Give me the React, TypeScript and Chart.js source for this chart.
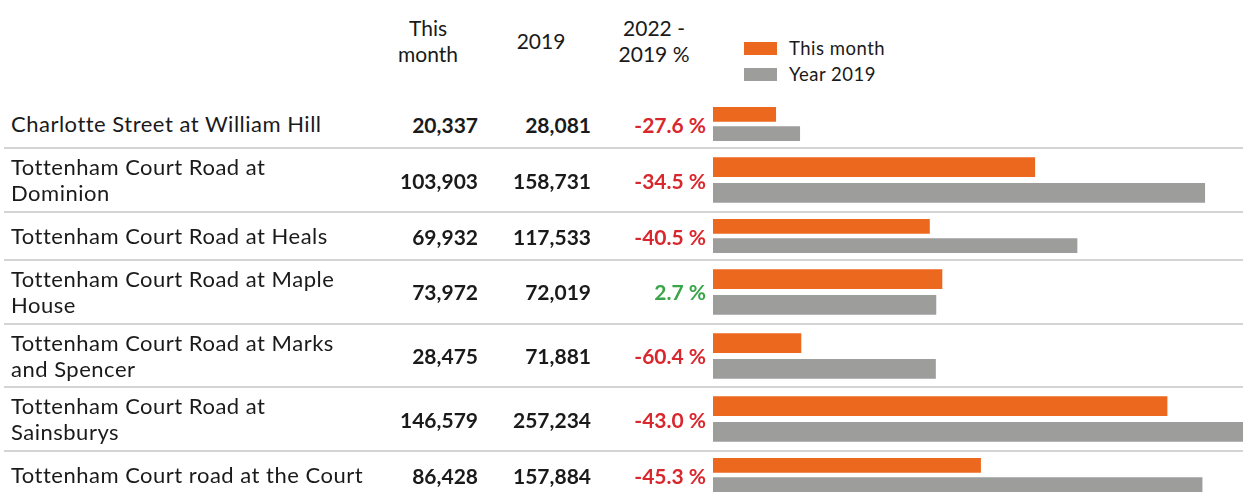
import React, { useEffect, useRef } from "react";
import { Chart, registerables } from "chart.js";

Chart.register(...registerables);

// ---- Data ----
const locationLines: string[][] = [
  ["Charlotte Street at William Hill"],
  ["Tottenham Court Road at", "Dominion"],
  ["Tottenham Court Road at Heals"],
  ["Tottenham Court Road at Maple", "House"],
  ["Tottenham Court Road at Marks", "and Spencer"],
  ["Tottenham Court Road at", "Sainsburys"],
  ["Tottenham Court road at the Court"],
];
const thisMonth = [20337, 103903, 69932, 73972, 28475, 146579, 86428];
const year2019 = [28081, 158731, 117533, 72019, 71881, 257234, 157884];
const changePct = [-27.6, -34.5, -40.5, 2.7, -60.4, -43.0, -45.3];
const headerThisMonth = ["This", "month"];
const headerYear = ["2019"];
const headerChange = ["2022 -", "2019 %"];
const seriesLabels = ["This month", "Year 2019"];

// ---- Styles ----
const ORANGE = "#EC681F";
const GREY = "#9D9D9C";
const RED = "#D8272D";
const GREEN = "#3AA548";
const TEXT = "#1a1a1a";
const FONT = "Lato, 'Open Sans', sans-serif";
const X_MAX = 260000;
const CHART_LEFT = 713;
const CHART_WIDTH = 806;

const fmt = (n: number) => n.toLocaleString("en-US");
const fmtPct = (p: number) => `${p.toFixed(1)} %`;

function RowChart({ index, height }: { index: number; height: number }) {
  const ref = useRef<HTMLCanvasElement | null>(null);
  useEffect(() => {
    if (!ref.current) return;
    const chart = new Chart(ref.current, {
      type: "bar",
      data: {
        labels: [locationLines[index].join(" ")],
        datasets: [
          {
            label: seriesLabels[0],
            data: [thisMonth[index]],
            backgroundColor: ORANGE,
            borderWidth: 0,
            categoryPercentage: 0.8,
            barPercentage: 0.77,
          },
          {
            label: seriesLabels[1],
            data: [year2019[index]],
            backgroundColor: GREY,
            borderWidth: 0,
            categoryPercentage: 0.8,
            barPercentage: 0.77,
          },
        ],
      },
      options: {
        indexAxis: "y",
        responsive: false,
        animation: false,
        layout: { padding: 0 },
        plugins: { legend: { display: false }, tooltip: { enabled: false } },
        scales: {
          x: { min: 0, max: X_MAX, display: false },
          y: { display: false },
        },
      },
    });
    return () => chart.destroy();
  }, [index, height]);
  return (
    <canvas
      ref={ref}
      width={CHART_WIDTH}
      height={Math.round(height)}
      style={{ position: "absolute", left: CHART_LEFT, top: 0, width: CHART_WIDTH, height: Math.round(height) }}
    />
  );
}

export default function App() {
  const rowHeights = locationLines.map((l) => (l.length === 1 ? 48.3 : 63.6));
  const tops: number[] = [];
  let acc = 100;
  rowHeights.forEach((h) => {
    tops.push(acc);
    acc += h;
  });

  const cellBase: React.CSSProperties = {
    position: "absolute",
    top: 0,
    height: "100%",
    display: "flex",
    alignItems: "center",
    whiteSpace: "nowrap",
  };

  return (
    <div
      style={{
        position: "absolute",
        left: 0,
        top: 0,
        width: 1243,
        height: 492,
        overflow: "hidden",
        background: "#fff",
        fontFamily: FONT,
        color: TEXT,
      }}
    >
      {/* Header */}
      <div style={{ position: "absolute", left: 378, width: 100, top: 15, textAlign: "center", fontSize: 21, lineHeight: "26px" }}>
        {headerThisMonth.map((t, i) => (
          <div key={i}>{t}</div>
        ))}
      </div>
      <div style={{ position: "absolute", left: 491, width: 100, top: 28, textAlign: "center", fontSize: 21, lineHeight: "26px" }}>
        {headerYear.map((t, i) => (
          <div key={i}>{t}</div>
        ))}
      </div>
      <div style={{ position: "absolute", left: 604, width: 100, top: 15, textAlign: "center", fontSize: 21, lineHeight: "26px" }}>
        {headerChange.map((t, i) => (
          <div key={i}>{t}</div>
        ))}
      </div>
      {/* Legend */}
      {seriesLabels.map((s, i) => (
        <div
          key={s}
          style={{
            position: "absolute",
            left: 744,
            top: 36 + i * 26,
            height: 24,
            display: "flex",
            alignItems: "center",
            fontSize: 18.5,
            letterSpacing: 0.5,
          }}
        >
          <div style={{ width: 33, height: 13, background: i === 0 ? ORANGE : GREY, marginRight: 12 }} />
          <span>{s}</span>
        </div>
      ))}

      {/* Rows */}
      {locationLines.map((lines, i) => (
        <div key={i} style={{ position: "absolute", left: 0, top: tops[i], width: 1243, height: rowHeights[i] }}>
          <div
            style={{
              ...cellBase,
              left: 11,
              fontSize: 22,
              letterSpacing: 0.5,
              lineHeight: "26px",
              flexDirection: "column",
              alignItems: "flex-start",
              justifyContent: "center",
            }}
          >
            {lines.map((l, j) => (
              <div key={j}>{l}</div>
            ))}
          </div>
          <div style={{ ...cellBase, left: 378, width: 100, justifyContent: "flex-end", fontWeight: 700, fontSize: 21 }}>
            {fmt(thisMonth[i])}
          </div>
          <div style={{ ...cellBase, left: 491, width: 100, justifyContent: "flex-end", fontWeight: 700, fontSize: 21 }}>
            {fmt(year2019[i])}
          </div>
          <div
            style={{
              ...cellBase,
              left: 606,
              width: 100,
              justifyContent: "flex-end",
              fontWeight: 700,
              fontSize: 21,
              color: changePct[i] >= 0 ? GREEN : RED,
            }}
          >
            {fmtPct(changePct[i])}
          </div>
          <RowChart index={i} height={rowHeights[i]} />
          <div style={{ position: "absolute", left: 4, right: 0, top: rowHeights[i] - 1, height: 2, background: "#d4d4d4" }} />
        </div>
      ))}
    </div>
  );
}
